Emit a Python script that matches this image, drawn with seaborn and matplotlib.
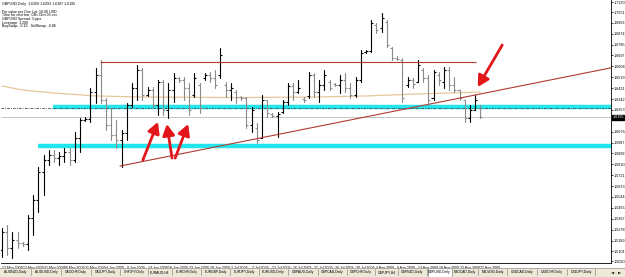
import numpy as np
import pandas as pd
import matplotlib
matplotlib.use("Agg")
import matplotlib.pyplot as plt
from matplotlib.patches import Rectangle
import seaborn as sns

# ---------------- data ----------------
date_labels = ["12 May 2009", "17 May 2009", "21 May 2009", "26 May 2009", "31 May 2009",
               "4 Jun 2009", "9 Jun 2009", "14 Jun 2009", "18 Jun 2009", "23 Jun 2009",
               "28 Jun 2009", "2 Jul 2009", "7 Jul 2009", "12 Jul 2009", "16 Jul 2009",
               "21 Jul 2009", "26 Jul 2009", "30 Jul 2009", "4 Aug 2009", "9 Aug 2009",
               "13 Aug 2009", "18 Aug 2009", "23 Aug 2009", "27 Aug 2009"]
label_bar = list(range(0, 93, 4))

opens = [1.5111, 1.5258, 1.5128, 1.5193, 1.5169, 1.5160, 1.5372, 1.5519, 1.5747, 1.5845,
         1.5886, 1.5861, 1.5878, 1.5910, 1.5845, 1.6024, 1.6171, 1.6179, 1.6399, 1.6538,
         1.6334, 1.6130, 1.6049, 1.6008, 1.6065, 1.6293, 1.6432, 1.6578, 1.6375, 1.6415,
         1.6293, 1.6481, 1.6252, 1.6415, 1.6513, 1.6497, 1.6432, 1.6375, 1.6456, 1.6513,
         1.6538, 1.6513, 1.6538, 1.6456, 1.6415, 1.6399, 1.6358, 1.6350, 1.6130, 1.6106,
         1.6024, 1.6334, 1.6220, 1.6204, 1.6236, 1.6318, 1.6448, 1.6399, 1.6342, 1.6367,
         1.6538, 1.6399, 1.6456, 1.6481, 1.6464, 1.6456, 1.6497, 1.6432, 1.6375, 1.6497,
         1.6725, 1.6733, 1.6945, 1.6921, 1.6970, 1.6758, 1.6676, 1.6660, 1.6456, 1.6497,
         1.6481, 1.6578, 1.6513, 1.6350, 1.6538, 1.6481, 1.6578, 1.6456, 1.6415, 1.6334,
         1.6187, 1.6252, 1.6269]
highs = [1.5291, 1.5315, 1.5258, 1.5258, 1.5177, 1.5397, 1.5560, 1.5788, 1.5886, 1.5926,
         1.5926, 1.5910, 1.5943, 1.5943, 1.6073, 1.6187, 1.6195, 1.6432, 1.6595, 1.6660,
         1.6350, 1.6269, 1.6171, 1.6089, 1.6310, 1.6473, 1.6619, 1.6595, 1.6440, 1.6440,
         1.6497, 1.6497, 1.6473, 1.6554, 1.6521, 1.6521, 1.6473, 1.6554, 1.6473, 1.6554,
         1.6562, 1.6578, 1.6758, 1.6481, 1.6473, 1.6415, 1.6367, 1.6358, 1.6277, 1.6147,
         1.6375, 1.6334, 1.6228, 1.6236, 1.6334, 1.6473, 1.6473, 1.6497, 1.6358, 1.6562,
         1.6554, 1.6497, 1.6578, 1.6497, 1.6473, 1.6538, 1.6554, 1.6473, 1.6521, 1.6741,
         1.6741, 1.6986, 1.6962, 1.7043, 1.6986, 1.6766, 1.6693, 1.6676, 1.6521, 1.6513,
         1.6660, 1.6595, 1.6538, 1.6578, 1.6562, 1.6603, 1.6603, 1.6521, 1.6415, 1.6334,
         1.6293, 1.6375, 1.6293]
lows = [1.5054, 1.5071, 1.5046, 1.5128, 1.5144, 1.5111, 1.5234, 1.5421, 1.5560, 1.5804,
        1.5829, 1.5804, 1.5829, 1.5804, 1.5829, 1.5910, 1.6163, 1.6155, 1.6310, 1.6310,
        1.6089, 1.6008, 1.5943, 1.5788, 1.6008, 1.6277, 1.6334, 1.6334, 1.6367, 1.6277,
        1.6212, 1.6212, 1.6187, 1.6318, 1.6481, 1.6334, 1.6212, 1.6358, 1.6228, 1.6497,
        1.6481, 1.6432, 1.6513, 1.6358, 1.6334, 1.6310, 1.6334, 1.6106, 1.6073, 1.5984,
        1.6024, 1.6195, 1.6195, 1.6032, 1.6228, 1.6293, 1.6334, 1.6391, 1.6318, 1.6350,
        1.6358, 1.6318, 1.6415, 1.6415, 1.6448, 1.6391, 1.6399, 1.6350, 1.6358, 1.6481,
        1.6717, 1.6725, 1.6880, 1.6888, 1.6766, 1.6660, 1.6660, 1.6318, 1.6440, 1.6432,
        1.6481, 1.6481, 1.6310, 1.6334, 1.6456, 1.6432, 1.6415, 1.6399, 1.6334, 1.6155,
        1.6155, 1.6252, 1.6187]
closes = [1.5258, 1.5128, 1.5193, 1.5169, 1.5160, 1.5372, 1.5519, 1.5747, 1.5845, 1.5886,
          1.5861, 1.5878, 1.5910, 1.5845, 1.6024, 1.6171, 1.6179, 1.6399, 1.6538, 1.6334,
          1.6130, 1.6049, 1.6008, 1.6065, 1.6293, 1.6432, 1.6578, 1.6375, 1.6415, 1.6293,
          1.6481, 1.6252, 1.6415, 1.6513, 1.6497, 1.6432, 1.6252, 1.6513, 1.6269, 1.6538,
          1.6513, 1.6456, 1.6701, 1.6415, 1.6432, 1.6358, 1.6350, 1.6130, 1.6252, 1.6008,
          1.6334, 1.6228, 1.6204, 1.6220, 1.6318, 1.6448, 1.6399, 1.6432, 1.6334, 1.6538,
          1.6399, 1.6456, 1.6538, 1.6432, 1.6456, 1.6497, 1.6432, 1.6375, 1.6497, 1.6717,
          1.6733, 1.6962, 1.6904, 1.7002, 1.6782, 1.6676, 1.6668, 1.6350, 1.6497, 1.6464,
          1.6619, 1.6513, 1.6334, 1.6562, 1.6497, 1.6578, 1.6456, 1.6415, 1.6350, 1.6187,
          1.6252, 1.6334, 1.6195]

ma_bar = [0, 4, 10, 18, 28, 45, 60, 70, 80, 92]
ma_val = [1.6448, 1.6415, 1.6391, 1.6367, 1.6358, 1.6354, 1.6358, 1.6367, 1.6383, 1.6399]

resistance_level = 1.6644
upper_zone = 1.6277
lower_zone = 1.5959
alert_level = 1.6270
bid_price = 1.6195
trend_bars = [22.7, 117.1]
trend_prices = [1.5796, 1.6596]

y_ticks = [1.7130, 1.7051, 1.6963, 1.6874, 1.6785, 1.6697, 1.6608, 1.6519, 1.6431,
           1.6342, 1.6253, 1.6076, 1.5987, 1.5899, 1.5810, 1.5721, 1.5633,
           1.5544, 1.5455, 1.5367, 1.5278, 1.5189, 1.5101, 1.5020]

# arrows: (tail bar, tail price, head bar, head price)
arrows = [(27.1, 1.5845, 30.0, 1.6155),
          (32.7, 1.5861, 31.7, 1.6138),
          (33.3, 1.5861, 35.8, 1.6138),
          (96.2, 1.6782, 91.5, 1.6440)]

tab_names = ["AUDNZD,Daily", "AUDUSD,Daily", "CADCHF,Daily", "CADJPY,Daily", "CHFJPY,Daily",
             "EURAUD,H4", "EURCHF,Daily", "EURGBP,Daily", "EURJPY,Daily", "EURUSD,Daily",
             "GBPAUD,Daily", "GBPCAD,Daily", "GBPCHF,Daily", "GBPJPY,H4", "GBPNZD,Daily",
             "GBPUSD,Daily", "NZDCAD,Daily", "NZDUSD,Daily", "USDCAD,Daily", "USDCHF,Daily",
             "USDJPY,Daily"]
tab_edges = [0, 31, 61, 91, 120, 148, 172, 201, 230, 259, 288, 318, 347, 375, 398,
             427, 452, 478, 507, 537, 567, 595]
active_tab = "GBPUSD,Daily"

info_lines = ["GBPUSD,Daily  1.6269 1.6293 1.6187 1.6195",
              "Pip value per One Lot: 10.00 USD",
              "Time for next bar: 04h 31m 05 sec",
              "GBPUSD Spread: 3 pips",
              "Leverage: 1:200",
              "BuySwap: -0.19   SellSwap: -0.86"]

# ---------------- style ----------------
sns.set_theme(style="white")
plt.rcParams['font.family'] = ['Liberation Sans', 'DejaVu Sans']

W, H = 625, 277
fig = plt.figure(figsize=(W / 100, H / 100), dpi=100)
fig.patch.set_facecolor("white")
ax = fig.add_axes([1 / W, 14.4 / H, 610 / W, 262.6 / H])
ax.set_facecolor("white")

n = len(opens)
idx = np.arange(n)
direction = ["up" if c >= o else "down" for o, c in zip(opens, closes)]

df = pd.DataFrame({
    "bar": np.concatenate([idx, idx]),
    "price": np.concatenate([lows, highs]),
    "dir": direction + direction,
})
pal = {"up": "#000000", "down": "#8a8a8a"}

xmin, xmax = -0.19, 117.12
ymin, ymax = 1.5009, 1.7149

# zones and lines (behind bars)
ax.hlines(upper_zone, 9.8, xmax, colors="#22E6EC", lw=3.2, zorder=1)
ax.hlines(lower_zone, 6.9, xmax, colors="#22E6EC", lw=3.2, zorder=1)
ax.hlines(alert_level, xmin, xmax, colors="#404040", lw=0.6, linestyles=(0, (3, 1.5, 1, 1.5)), zorder=1.5)
ax.hlines(bid_price, xmin, xmax, colors="#BDBDBD", lw=0.6, zorder=1)

sns.lineplot(x=ma_bar, y=ma_val, color="#E6C79C", lw=0.9, ax=ax, zorder=1.6)

sns.lineplot(data=df, x="bar", y="price", units="bar", estimator=None, hue="dir",
             palette=pal, legend=False, lw=0.8, ax=ax, sort=False, zorder=2)
cols = [pal[d] for d in direction]
ax.hlines(opens, idx - 0.4, idx, colors=cols, lw=0.8, zorder=2)
ax.hlines(closes, idx, idx + 0.4, colors=cols, lw=0.8, zorder=2)

ax.hlines(resistance_level, 18.85, 91.2, colors="#B03A32", lw=0.8, zorder=3)
ax.plot(trend_bars, trend_prices, color="#B03A32", lw=0.8, zorder=3)

for tx, ty, hx, hy in arrows:
    ax.annotate("", xy=(hx, hy), xytext=(tx, ty),
                arrowprops=dict(arrowstyle="-|>,head_length=0.55,head_width=0.3",
                                color="#E3161B", lw=2.0, shrinkA=0, shrinkB=0),
                zorder=4)

ax.set_xlim(xmin, xmax)
ax.set_ylim(ymin, ymax)
ax.set_xlabel("")
ax.set_ylabel("")

for s in ["left", "top"]:
    ax.spines[s].set_visible(False)
for s in ["right", "bottom"]:
    ax.spines[s].set_color("#000000")
    ax.spines[s].set_linewidth(0.6)

ax.yaxis.tick_right()
ax.set_yticks(y_ticks)
ax.set_yticklabels([f"{v:.4f}" for v in y_ticks], fontsize=2.7)
ax.tick_params(axis="y", length=1.5, width=0.5, pad=0.6, colors="black")
ax.set_xticks(label_bar)
ax.set_xticklabels(date_labels, fontsize=2.5, ha="left")
ax.tick_params(axis="x", length=2, width=0.5, pad=0.5, colors="black")

ax.text(1.002, bid_price, f"{bid_price:.4f}", transform=ax.get_yaxis_transform(),
        fontsize=2.7, color="white", va="center", ha="left",
        bbox=dict(boxstyle="square,pad=0.12", fc="black", ec="black"))

for k, line in enumerate(info_lines):
    ypx = [4, 11.5, 15.2, 19, 22.6, 26.5][k]
    fig.text(2 / W, 1 - ypx / H, line, fontsize=2.6, color="black", va="center", ha="left")

# tab bar
tab_ax = fig.add_axes([0, 0, 1, 9 / H])
tab_ax.set_xlim(0, W)
tab_ax.set_ylim(0, 1)
tab_ax.set_facecolor("#ECE9D8")
for s in tab_ax.spines.values():
    s.set_visible(False)
tab_ax.set_xticks([])
tab_ax.set_yticks([])
tab_ax.axhline(1, color="#A0A0A0", lw=0.6)
for k, name in enumerate(tab_names):
    l, r = tab_edges[k], tab_edges[k + 1]
    if name == active_tab:
        tab_ax.add_patch(Rectangle((l + 0.5, 0.05), r - l - 1, 0.95, fc="white", ec="#7F7F7F", lw=0.5))
    else:
        tab_ax.plot([r, r], [0.2, 0.85], color="#8C8C8C", lw=0.5)
    tab_ax.text((l + r) / 2, 0.5, name, fontsize=2.4, ha="center", va="center", color="black")
tab_ax.text(613, 0.5, "\u25C4", fontsize=3, ha="center", va="center", color="black",
            family="DejaVu Sans")
tab_ax.text(620, 0.5, "\u25BA", fontsize=3, ha="center", va="center", color="black",
            family="DejaVu Sans")

fig.savefig("out.png", dpi=100)
